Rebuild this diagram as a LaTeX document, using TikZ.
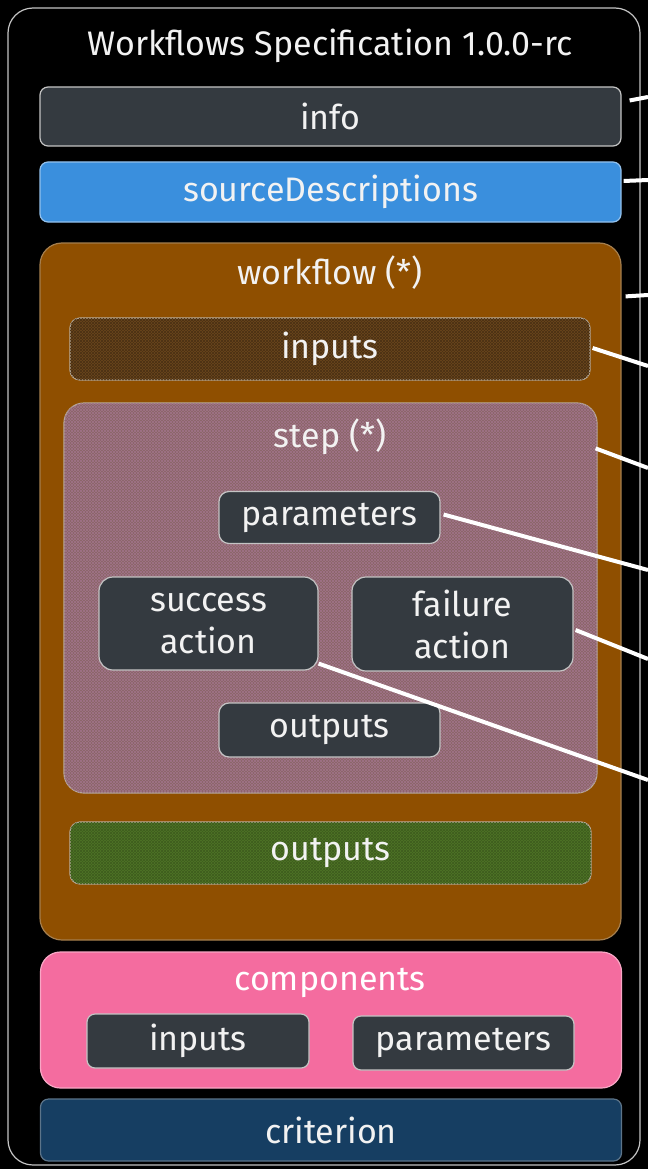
\documentclass[tikz,border=0pt]{standalone}
\usepackage{fontspec}
\setmainfont{Fira Sans}
\usetikzlibrary{calc,patterns}

\definecolor{slate}{HTML}{343A40}
\definecolor{skyblue}{HTML}{3A8FDD}
\definecolor{rust}{HTML}{8F4F00}
\definecolor{inbrown}{HTML}{6B461C}
\definecolor{stepmix}{HTML}{8A6466}
\definecolor{outgreen}{HTML}{4F7426}
\definecolor{rosy}{HTML}{F46C9F}
\definecolor{navy}{HTML}{163E62}
\definecolor{rim}{HTML}{C4C4C4}
\definecolor{chalk}{HTML}{F2F2F2}

\tikzset{
  lbl/.style={text=chalk, font=\fontsize{34}{42}\selectfont, align=center},
  box/.style={lbl, draw=rim, line width=1.2pt, rounded corners=#1, inner sep=0pt},
  box/.default=8pt,
  hatch/.style={postaction={pattern=north east lines, pattern color=#1},
                postaction={pattern=north west lines, pattern color=#1}},
  link/.style={draw=white, line width=4pt},
}

\begin{document}
\begin{tikzpicture}[x=1pt, y=-1pt]
\fill[black] (0,0) rectangle (648,1169);
\useasboundingbox (0,0) rectangle (648,1169);

% outer frame and title
\node[box=25pt, minimum width=632, minimum height=1157] (spec) at (324,586.5) {};
\node[lbl] (title) at (330,46) {Workflows Specification 1.0.0-rc};

\node[box, fill=slate, minimum width=581, minimum height=59] (info) at (330.5,116.5) {info};
\node[box, fill=skyblue, draw=skyblue!55!white, minimum width=581, minimum height=60] (srcd) at (330.5,192) {sourceDescriptions};

% workflow
\node[box=22pt, fill=rust, draw=rust!60!rim, minimum width=581, minimum height=697] (wf) at (330.5,591.5) {};
\node[lbl] (wftitle) at (330,273) {workflow (*)};
\node[box=10pt, fill=inbrown, hatch=inbrown!70!black, draw=rim!80!rust, minimum width=520, minimum height=62] (inp) at (330,349) {inputs};

% step
\node[box=20pt, fill=stepmix, hatch=stepmix!80!violet!80!white, draw=rim!80!rust, minimum width=533, minimum height=390] (stp) at (330.5,598) {};
\node[lbl] (stptitle) at (330,437) {step (*)};
\node[box=10pt, fill=slate, minimum width=221, minimum height=52] (par) at (329.5,517.5) {parameters};
\node[box=14pt, fill=slate, minimum width=219, minimum height=93] (succ) at (208.5,623.5) {success\\action};
\node[box=14pt, fill=slate, minimum width=221, minimum height=94] (fail) at (462.5,624) {failure\\action};
\node[box=10pt, fill=slate, minimum width=221, minimum height=54] (sout) at (329.5,730) {outputs};

\node[box=10pt, fill=outgreen, hatch=outgreen!80!black, draw=rim!80!rust, minimum width=521, minimum height=62] (wout) at (330.5,853) {outputs};

% components
\node[box=20pt, fill=rosy, draw=rosy!60!white, minimum width=581, minimum height=136] (comp) at (331,1020) {};
\node[lbl, text=white] (comptitle) at (330,983) {components};
\node[box=8pt, fill=slate, minimum width=222, minimum height=54] (cin) at (198,1041) {inputs};
\node[box=8pt, fill=slate, minimum width=221, minimum height=54] (cpar) at (463.5,1043) {parameters};

\node[box, fill=navy, draw=navy!60!rim, minimum width=581, minimum height=62] (crit) at (331,1130) {criterion};

% pointers to the right
\coordinate (e1) at (648,97);
\coordinate (e2) at (648,180);
\coordinate (e3) at (648,295);
\coordinate (e4) at (648,366);
\coordinate (e5) at (648,468);
\coordinate (e6) at (648,570);
\coordinate (e7) at (648,659);
\coordinate (e8) at (648,780);
\draw[link] ($(info.east)+(8,-16)$) -- (e1);
\draw[link] ($(srcd.east)+(2,-11)$) -- (e2);
\draw[link] ($(wf.north east)+(4,54)$) -- (e3);
\draw[link] ($(inp.east)+(2,-1)$) -- (e4);
\draw[link] ($(stp.north east)+(-2,46)$) -- (e5);
\draw[link] ($(par.east)+(3,-3)$) -- (e6);
\draw[link] ($(fail.east)+(2,6)$) -- (e7);
\draw[link] (succ.-20) -- (e8);
\end{tikzpicture}
\end{document}
